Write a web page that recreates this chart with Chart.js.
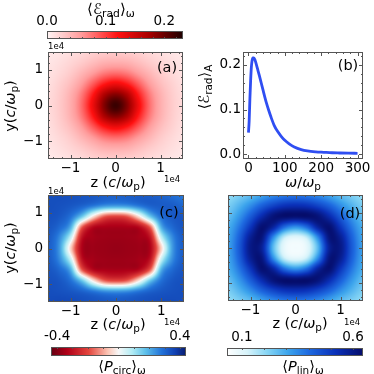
<!DOCTYPE html>
<html>
<head>
<meta charset="utf-8">
<script src="https://cdn.jsdelivr.net/npm/chart.js@4/dist/chart.umd.min.js"></script>
<style>
body { margin: 0; background: #fff; }
#fig { position: relative; width: 374px; height: 374px; overflow: hidden; font-family: "DejaVu Sans", sans-serif; color: #000; }
#fig canvas { position: absolute; left: 0; top: 0; }
.t { position: absolute; white-space: nowrap; font-size: 14.5px; line-height: 1; transform: translate(-50%, -50%); }
.rot { transform: translate(-50%, -50%) rotate(-90deg); }
.off { position: absolute; font-size: 8.5px; line-height: 1; white-space: nowrap; }
sub { font-size: 72%; vertical-align: -0.28em; line-height: 0; }
i { font-style: oblique; }
</style>
</head>
<body>
<div id="fig">
  <div class="t" style="left:111px;top:9px;font-size:15px">⟨ℰ<sub>rad</sub>⟩<sub>ω</sub></div>
  <div class="off" style="left:48px;top:42px">1e4</div>
  <div class="t" style="left:167px;top:67px">(a)</div>
  <div class="t" style="left:118px;top:182px">z (<i>c</i>/<i>ω</i><sub>p</sub>)</div>
  <div class="off" style="left:164px;top:175px">1e4</div>
  <div class="t rot" style="left:10px;top:106px">y(<i>c</i>/<i>ω</i><sub>p</sub>)</div>

  <div class="t rot" style="left:204px;top:87px">⟨ℰ<sub>rad</sub>⟩<sub>A</sub></div>
  <div class="t" style="left:348px;top:65px">(b)</div>
  <div class="t" style="left:303px;top:182px"><i>ω</i>/<i>ω</i><sub>p</sub></div>

  <div class="off" style="left:48px;top:187px">1e4</div>
  <div class="t" style="left:169px;top:212px">(c)</div>
  <div class="t" style="left:118px;top:324px">z (<i>c</i>/<i>ω</i><sub>p</sub>)</div>
  <div class="off" style="left:164px;top:318px">1e4</div>
  <div class="t rot" style="left:10px;top:248px">y(<i>c</i>/<i>ω</i><sub>p</sub>)</div>

  <div class="t" style="left:350px;top:213px">(d)</div>
  <div class="t" style="left:300px;top:323px">z (<i>c</i>/<i>ω</i><sub>p</sub>)</div>
  <div class="off" style="left:344px;top:318px">1e4</div>

  <div class="t" style="left:122px;top:366px">⟨<i>P</i><sub>circ</sub>⟩<sub>ω</sub></div>
  <div class="t" style="left:303px;top:366px">⟨<i>P</i><sub>lin</sub>⟩<sub>ω</sub></div>
</div>
<script>
// ---------- data ----------
const zVals = [-15000, -12500, -10000, -7500, -5000, -2500, 0, 2500, 5000, 7500, 10000, 12500, 15000];
const yVals = [15000, 12000, 9000, 6000, 3000, 0, -3000, -6000, -9000, -12000, -15000];

// (a) <E_rad>_w map, rows top -> bottom
const radMap = [
  [0.008, 0.011, 0.015, 0.019, 0.024, 0.027, 0.028, 0.027, 0.024, 0.019, 0.015, 0.011, 0.008],
  [0.011, 0.015, 0.021, 0.028, 0.037, 0.045, 0.047, 0.045, 0.037, 0.028, 0.021, 0.015, 0.011],
  [0.013, 0.019, 0.028, 0.042, 0.058, 0.074, 0.080, 0.074, 0.058, 0.042, 0.028, 0.019, 0.013],
  [0.015, 0.024, 0.037, 0.058, 0.088, 0.118, 0.132, 0.118, 0.088, 0.058, 0.037, 0.024, 0.015],
  [0.017, 0.027, 0.045, 0.074, 0.118, 0.170, 0.190, 0.170, 0.118, 0.074, 0.045, 0.027, 0.017],
  [0.018, 0.028, 0.047, 0.080, 0.132, 0.190, 0.220, 0.190, 0.132, 0.080, 0.047, 0.028, 0.018],
  [0.017, 0.027, 0.045, 0.074, 0.118, 0.170, 0.190, 0.170, 0.118, 0.074, 0.045, 0.027, 0.017],
  [0.015, 0.024, 0.037, 0.058, 0.088, 0.118, 0.132, 0.118, 0.088, 0.058, 0.037, 0.024, 0.015],
  [0.013, 0.019, 0.028, 0.042, 0.058, 0.074, 0.080, 0.074, 0.058, 0.042, 0.028, 0.019, 0.013],
  [0.011, 0.015, 0.021, 0.028, 0.037, 0.045, 0.047, 0.045, 0.037, 0.028, 0.021, 0.015, 0.011],
  [0.008, 0.011, 0.015, 0.019, 0.024, 0.027, 0.028, 0.027, 0.024, 0.019, 0.015, 0.011, 0.008]
];

// (c) <P_circ>_w map
const circMap = [
  [0.340, 0.345, 0.342, 0.335, 0.330, 0.320, 0.316, 0.320, 0.325, 0.320, 0.310, 0.290, 0.270],
  [0.345, 0.340, 0.330, 0.310, 0.275, 0.240, 0.230, 0.240, 0.275, 0.310, 0.320, 0.320, 0.300],
  [0.340, 0.330, 0.285, 0.160, -0.030, -0.170, -0.200, -0.170, -0.030, 0.160, 0.285, 0.325, 0.330],
  [0.333, 0.300, 0.200, -0.170, -0.320, -0.340, -0.345, -0.340, -0.320, -0.170, 0.200, 0.300, 0.333],
  [0.325, 0.250, 0.060, -0.300, -0.350, -0.360, -0.362, -0.360, -0.350, -0.300, 0.060, 0.250, 0.325],
  [0.320, 0.230, -0.050, -0.335, -0.360, -0.365, -0.370, -0.365, -0.360, -0.335, -0.050, 0.230, 0.320],
  [0.325, 0.250, 0.060, -0.300, -0.350, -0.360, -0.362, -0.360, -0.350, -0.300, 0.060, 0.250, 0.325],
  [0.333, 0.300, 0.200, -0.170, -0.320, -0.340, -0.345, -0.340, -0.320, -0.170, 0.200, 0.300, 0.333],
  [0.340, 0.330, 0.285, 0.160, -0.030, -0.170, -0.200, -0.170, -0.030, 0.160, 0.285, 0.330, 0.340],
  [0.345, 0.340, 0.330, 0.310, 0.275, 0.240, 0.230, 0.240, 0.275, 0.310, 0.330, 0.340, 0.345],
  [0.350, 0.355, 0.352, 0.345, 0.340, 0.335, 0.330, 0.335, 0.340, 0.345, 0.350, 0.350, 0.345]
];

// (d) <P_lin>_w map
const linMap = [
  [0.200, 0.230, 0.265, 0.310, 0.350, 0.375, 0.385, 0.375, 0.350, 0.310, 0.265, 0.230, 0.200],
  [0.230, 0.280, 0.345, 0.420, 0.480, 0.520, 0.530, 0.520, 0.480, 0.420, 0.345, 0.280, 0.230],
  [0.260, 0.330, 0.430, 0.540, 0.620, 0.640, 0.635, 0.640, 0.620, 0.540, 0.430, 0.330, 0.260],
  [0.290, 0.380, 0.510, 0.630, 0.570, 0.410, 0.345, 0.410, 0.570, 0.630, 0.510, 0.380, 0.290],
  [0.305, 0.420, 0.580, 0.615, 0.356, 0.150, 0.100, 0.150, 0.356, 0.615, 0.580, 0.420, 0.305],
  [0.310, 0.435, 0.600, 0.575, 0.273, 0.089, 0.060, 0.089, 0.273, 0.575, 0.600, 0.435, 0.310],
  [0.305, 0.420, 0.580, 0.615, 0.356, 0.150, 0.100, 0.150, 0.356, 0.615, 0.580, 0.420, 0.305],
  [0.290, 0.380, 0.510, 0.630, 0.570, 0.410, 0.345, 0.410, 0.570, 0.630, 0.510, 0.380, 0.290],
  [0.260, 0.330, 0.430, 0.540, 0.620, 0.640, 0.635, 0.640, 0.620, 0.540, 0.430, 0.330, 0.260],
  [0.230, 0.280, 0.345, 0.420, 0.480, 0.520, 0.530, 0.520, 0.480, 0.420, 0.345, 0.280, 0.230],
  [0.200, 0.230, 0.265, 0.310, 0.350, 0.375, 0.385, 0.375, 0.350, 0.310, 0.265, 0.230, 0.200]
];

// (b) angle-averaged spectrum
const omega = [0, 2, 4, 6, 8, 10, 12, 15, 18, 22, 26, 30, 35, 40, 45, 50, 55, 62, 71, 80, 90, 100, 112, 126, 145, 162, 185, 207, 230, 250, 275, 300];
const radSpectrum = [0.048, 0.075, 0.125, 0.165, 0.195, 0.210, 0.216, 0.216, 0.211, 0.200, 0.188, 0.176, 0.160, 0.144, 0.128, 0.113, 0.100, 0.083, 0.064, 0.051, 0.040, 0.031, 0.023, 0.016, 0.010, 0.007, 0.005, 0.004, 0.003, 0.0025, 0.002, 0.0018];

// ticks
const posTicks = [-10000, 0, 10000];
const posTickLabels = ['\u22121', '0', '1'];
const omegaTicks = [0, 100, 200, 300];
const specTicks = [0, 0.1, 0.2];
const specTickLabels = ['0.0', '0.1', '0.2'];
const radBarTicks = [0, 0.1, 0.2];
const radBarLabels = ['0.0', '0.1', '0.2'];
const circBarTicks = [-0.4, 0.4];
const circBarLabels = ['-0.4', '0.4'];
const linBarTicks = [0.1, 0.6];
const linBarLabels = ['0.1', '0.6'];

// ---------- colormaps ----------
const cmapRad = [[0, '#fff6f6'], [0.25, '#ff9c9c'], [0.52, '#ff1010'], [0.75, '#a80000'], [1, '#1c0000']];
const cmapCirc = [[0, '#650012'], [0.12, '#b00018'], [0.28, '#e4463e'], [0.42, '#fbc4b4'], [0.5, '#f7f7f7'],
                  [0.6, '#b2ecf4'], [0.7, '#5ec0ea'], [0.82, '#2272d8'], [0.92, '#1040b2'], [1, '#081c6e']];
const cmapLin = [[0, '#ffffff'], [0.15, '#d6f3fa'], [0.3, '#84d4f4'], [0.45, '#3ca4ec'], [0.6, '#1e6ae0'],
                 [0.8, '#0a30b8'], [1, '#050c6a']];

function hex(c) { return [parseInt(c.slice(1, 3), 16), parseInt(c.slice(3, 5), 16), parseInt(c.slice(5, 7), 16)]; }
function colorAt(stops, f) {
  f = Math.max(0, Math.min(1, f));
  for (let k = 1; k < stops.length; k++) {
    if (f <= stops[k][0]) {
      const a = hex(stops[k - 1][1]), b = hex(stops[k][1]);
      const t = (f - stops[k - 1][0]) / (stops[k][0] - stops[k - 1][0]);
      return [0, 1, 2].map(i => Math.round(a[i] + (b[i] - a[i]) * t));
    }
  }
  return hex(stops[stops.length - 1][1]);
}

// bicubic (Catmull-Rom) image smoothing, like imshow interpolation
function cr(p0, p1, p2, p3, t) {
  return p1 + 0.5 * t * (p2 - p0 + t * (2 * p0 - 5 * p1 + 4 * p2 - p3 + t * (3 * (p1 - p2) + p3 - p0)));
}
function sample(grid, z, y) {
  const nc = zVals.length, nr = yVals.length;
  let fx = (z - zVals[0]) / (zVals[1] - zVals[0]);
  let fy = (y - yVals[0]) / (yVals[1] - yVals[0]);
  fx = Math.max(0, Math.min(nc - 1, fx));
  fy = Math.max(0, Math.min(nr - 1, fy));
  const i = Math.min(nc - 2, Math.floor(fx)), j = Math.min(nr - 2, Math.floor(fy));
  const tx = fx - i, ty = fy - j;
  const ci = k => Math.max(0, Math.min(nc - 1, k)), rj = k => Math.max(0, Math.min(nr - 1, k));
  const row = r => cr(grid[r][ci(i - 1)], grid[r][i], grid[r][i + 1], grid[r][ci(i + 2)], tx);
  return cr(row(rj(j - 1)), row(j), row(j + 1), row(rj(j + 2)), ty);
}

// ---------- plugins ----------
function heatPlugin(grid, cmap, vmin, vmax) {
  return {
    id: 'heat',
    beforeDatasetsDraw(chart) {
      const a = chart.chartArea, xs = chart.scales.x, ys = chart.scales.y;
      const w = Math.round(a.right - a.left), h = Math.round(a.bottom - a.top);
      const off = document.createElement('canvas');
      off.width = w; off.height = h;
      const octx = off.getContext('2d');
      const img = octx.createImageData(w, h);
      for (let py = 0; py < h; py++) {
        const yv = ys.getValueForPixel(a.top + py + 0.5);
        for (let px = 0; px < w; px++) {
          const zv = xs.getValueForPixel(a.left + px + 0.5);
          const c = colorAt(cmap, (sample(grid, zv, yv) - vmin) / (vmax - vmin));
          const k = (py * w + px) * 4;
          img.data[k] = c[0]; img.data[k + 1] = c[1]; img.data[k + 2] = c[2]; img.data[k + 3] = 255;
        }
      }
      octx.putImageData(img, 0, 0);
      chart.ctx.drawImage(off, a.left, a.top);
    }
  };
}

function framePlugin(minorX, minorY) {
  return {
    id: 'frame',
    afterDraw(chart) {
      const ctx = chart.ctx, a = chart.chartArea, xs = chart.scales.x, ys = chart.scales.y;
      ctx.save();
      ctx.strokeStyle = '#555';
      ctx.lineWidth = 1;
      ctx.beginPath();
      const tick = (v, len, axis) => {
        if (axis === 'x') {
          const p = Math.round(xs.getPixelForValue(v)) + 0.5;
          ctx.moveTo(p, a.bottom); ctx.lineTo(p, a.bottom - len);
          ctx.moveTo(p, a.top); ctx.lineTo(p, a.top + len);
        } else {
          const p = Math.round(ys.getPixelForValue(v)) + 0.5;
          ctx.moveTo(a.left, p); ctx.lineTo(a.left + len, p);
          ctx.moveTo(a.right, p); ctx.lineTo(a.right - len, p);
        }
      };
      xs.ticks.forEach(t => tick(t.value, 4, 'x'));
      ys.ticks.forEach(t => tick(t.value, 4, 'y'));
      for (let v = Math.ceil(xs.min / minorX) * minorX; v <= xs.max; v += minorX) tick(v, 2, 'x');
      for (let v = Math.ceil(ys.min / minorY) * minorY; v <= ys.max + 1e-9; v += minorY) tick(v, 2, 'y');
      ctx.stroke();
      ctx.strokeRect(a.left + 0.5, a.top + 0.5, a.right - a.left - 1, a.bottom - a.top - 1);
      ctx.restore();
    }
  };
}

function barPlugin(cmap, vmin, vmax, minor, tickSide) {
  return {
    id: 'cbar',
    beforeDatasetsDraw(chart) {
      const ctx = chart.ctx, a = chart.chartArea, xs = chart.scales.x;
      for (let px = Math.round(a.left); px < a.right; px++) {
        const c = colorAt(cmap, (xs.getValueForPixel(px + 0.5) - vmin) / (vmax - vmin));
        ctx.fillStyle = 'rgb(' + c.join(',') + ')';
        ctx.fillRect(px, a.top, 1, a.bottom - a.top);
      }
      ctx.save();
      ctx.strokeStyle = '#555';
      ctx.lineWidth = 1;
      ctx.beginPath();
      const edge = tickSide === 'top' ? a.top : a.bottom, dir = tickSide === 'top' ? 1 : -1;
      for (let v = Math.ceil(vmin / minor) * minor; v <= vmax; v += minor) {
        const p = Math.round(xs.getPixelForValue(v)) + 0.5;
        ctx.moveTo(p, edge); ctx.lineTo(p, edge + dir * 2);
      }
      ctx.stroke();
      ctx.strokeRect(a.left + 0.5, a.top + 0.5, a.right - a.left - 1, a.bottom - a.top - 1);
      ctx.restore();
    }
  };
}

// ---------- charts ----------
const FONT = { family: 'DejaVu Sans', size: 13.5 };
const LEFTW = 34, BOTH = 17;
const fig = document.getElementById('fig');

function makeCanvas() {
  const c = document.createElement('canvas');
  c.width = 374; c.height = 374;
  fig.insertBefore(c, fig.firstChild);
  return c;
}

function axis(min, max, values, labels, fit, pad, extra) {
  return Object.assign({
    type: 'linear', min, max,
    afterBuildTicks: s => { s.ticks = values.map(v => ({ value: v })); },
    afterFit: fit,
    grid: { display: false, drawTicks: false },
    border: { display: false },
    ticks: { color: '#000', font: FONT, padding: pad, autoSkip: false, maxRotation: 0,
             callback: (v, i) => labels[i] }
  }, extra || {});
}

function baseOptions(box, scales, leftw) {
  return {
    responsive: false, animation: false, devicePixelRatio: 1,
    layout: { padding: { left: box.l - leftw, top: box.t, right: 374 - box.r, bottom: 374 - box.b - BOTH } },
    plugins: { legend: { display: false }, tooltip: { enabled: false } },
    scales
  };
}

function mapChart(box, grid, cmap, vmin, vmax, yLabels) {
  new Chart(makeCanvas(), {
    type: 'scatter',
    data: { datasets: [{ data: [], pointRadius: 0 }] },
    options: baseOptions(box, {
      x: axis(-15000, 15000, posTicks, posTickLabels, s => { s.height = BOTH; }, 1),
      y: axis(-15000, 15000, posTicks, yLabels, s => { s.width = LEFTW; }, 5)
    }, LEFTW),
    plugins: [heatPlugin(grid, cmap, vmin, vmax), framePlugin(2000, 2000)]
  });
}

mapChart({ l: 48, t: 52, r: 183, b: 159 }, radMap, cmapRad, 0, 0.232, posTickLabels);
mapChart({ l: 48, t: 195, r: 184, b: 302 }, circMap, cmapCirc, -0.44, 0.44, posTickLabels);
mapChart({ l: 228, t: 195, r: 363, b: 301 }, linMap, cmapLin, 0.033, 0.645, ['', '', '']);

// (b) spectrum
new Chart(makeCanvas(), {
  type: 'scatter',
  data: {
    datasets: [{
      data: omega.map((w, i) => ({ x: w, y: radSpectrum[i] })),
      showLine: true, borderColor: '#2f4ef2', borderWidth: 2.8, pointRadius: 0,
      cubicInterpolationMode: 'monotone'
    }]
  },
  options: baseOptions({ l: 243, t: 52, r: 363, b: 159 }, {
    x: axis(-15, 315, omegaTicks, omegaTicks.map(String), s => { s.height = BOTH; }, 1),
    y: axis(-0.011, 0.229, specTicks, specTickLabels, s => { s.width = LEFTW; }, 2)
  }, LEFTW),
  plugins: [framePlugin(20, 0.02)]
});

// colorbars
function colorBar(box, cmap, vmin, vmax, ticks, labels, minor, side, pad) {
  const H = 17;
  new Chart(makeCanvas(), {
    type: 'scatter',
    data: { datasets: [{ data: [], pointRadius: 0 }] },
    options: {
      responsive: false, animation: false, devicePixelRatio: 1,
      layout: { padding: { left: box.l, top: box.t - H, right: 374 - box.r, bottom: 374 - box.b } },
      plugins: { legend: { display: false }, tooltip: { enabled: false } },
      scales: {
        x: axis(vmin, vmax, ticks, labels, s => { s.height = H; }, pad, { position: 'top' }),
        y: { display: false, min: 0, max: 1 }
      }
    },
    plugins: [barPlugin(cmap, vmin, vmax, minor, side)]
  });
}

colorBar({ l: 47, t: 31, r: 183, b: 39 }, cmapRad, 0, 0.232, radBarTicks, radBarLabels, 0.02, 'bottom', 1);
colorBar({ l: 51, t: 347, r: 186, b: 356 }, cmapCirc, -0.44, 0.44, circBarTicks, circBarLabels, 0.1, 'top', 2);
colorBar({ l: 227, t: 348, r: 363, b: 356 }, cmapLin, 0.033, 0.645, linBarTicks, linBarLabels, 0.1, 'top', 2);
</script>
</body>
</html>
